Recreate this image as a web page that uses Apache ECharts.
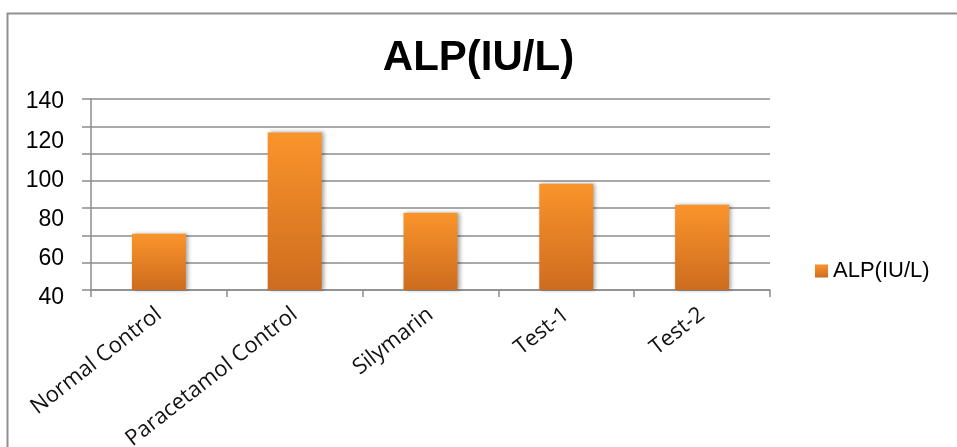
<!DOCTYPE html>
<html>
<head>
<meta charset="utf-8">
<title>ALP(IU/L)</title>
<script src="https://cdn.jsdelivr.net/npm/echarts@6/dist/echarts.min.js"></script>
<style>
    html, body { margin: 0; padding: 0; background: #fff; }
    #chart { width: 957px; height: 447px; }
</style>
</head>
<body>
<div id="chart"></div>
<script>
var categories = ['Normal Control', 'Paracetamol Control', 'Silymarin', 'Test-1', 'Test-2'];
var alpValues = [69.5, 122.5, 80.5, 95.6, 84.6];
var seriesName = 'ALP(IU/L)';
var tickLabels = [40, 60, 80, 100, 120, 140];

(function (window, document) {
    'use strict';
    var myChart = echarts.init(document.getElementById('chart'));
    var gray = '#8c8c8c';
    var yMin = tickLabels[0];
    var yMax = tickLabels[tickLabels.length - 1];

    var barColor = new echarts.graphic.LinearGradient(0, 0, 0, 1, [
        { offset: 0, color: '#fa942b' },
        { offset: 1, color: '#cd6c1f' }
    ]);

    var option = {
        animation: false,
        title: {
            text: seriesName,
            left: 'center',
            top: 32,
            textStyle: {
                fontFamily: 'Liberation Sans',
                fontWeight: 'bold',
                fontSize: 42,
                color: '#000'
            }
        },
        legend: {
            left: 810,
            top: 255,
            itemWidth: 13,
            itemHeight: 13,
            icon: 'rect',
            textStyle: {
                fontFamily: 'Liberation Sans',
                fontSize: 22,
                color: '#000'
            },
            data: [seriesName]
        },
        // frame round the chart, cut off on the right and bottom like the picture
        graphic: [{
            type: 'rect',
            shape: { x: 7.5, y: 13.5, width: 1200, height: 800 },
            style: { fill: null, stroke: '#909090', lineWidth: 2 },
            silent: true,
            z: -1
        }],
        grid: [{
            left: 91,
            right: 187,
            top: 99,
            bottom: 157,
            outerBoundsMode: 'none'
        }, {
            // only used to place the y labels, they sit a bit off the gridlines
            left: 91,
            right: 187,
            top: 102,
            bottom: 149,
            outerBoundsMode: 'none'
        }],
        xAxis: [{
            type: 'category',
            gridIndex: 0,
            data: categories,
            axisLine: { lineStyle: { color: gray, width: 1.5 } },
            axisTick: { show: true, length: 7, interval: 0, lineStyle: { color: gray, width: 1.5 } },
            axisLabel: {
                interval: 0,
                rotate: 38,
                margin: 22,
                fontFamily: 'Open Sans',
                fontSize: 22,
                color: '#111'
            }
        }, {
            type: 'category',
            gridIndex: 1,
            data: categories,
            show: false
        }],
        yAxis: [{
            type: 'value',
            gridIndex: 0,
            min: yMin,
            max: yMax,
            interval: (yMax - yMin) / 7,
            axisLine: { show: true, lineStyle: { color: gray, width: 1.5 } },
            axisTick: { show: true, length: 9, lineStyle: { color: gray, width: 1.5 } },
            axisLabel: { show: false },
            splitLine: { lineStyle: { color: gray, width: 1.5 } }
        }, {
            type: 'value',
            gridIndex: 1,
            min: yMin,
            max: yMax,
            interval: 20,
            axisLine: { show: false },
            axisTick: { show: false },
            splitLine: { show: false },
            axisLabel: {
                margin: 27,
                fontFamily: 'Liberation Sans',
                fontSize: 23,
                color: '#000'
            }
        }],
        series: [{
            name: seriesName,
            type: 'bar',
            xAxisIndex: 0,
            yAxisIndex: 0,
            barWidth: 54,
            data: alpValues,
            itemStyle: {
                color: barColor,
                shadowColor: 'rgba(0, 0, 0, 0.35)',
                shadowBlur: 4,
                shadowOffsetX: 2
            }
        }]
    };

    myChart.setOption(option);
})(window, document);
</script>
</body>
</html>
